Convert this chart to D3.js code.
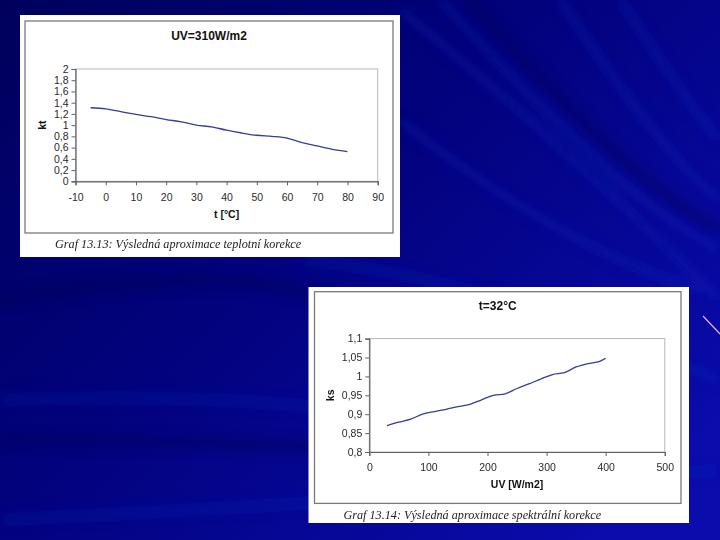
<!DOCTYPE html>
<html>
<head>
<meta charset="utf-8">
<script src="https://cdn.jsdelivr.net/npm/d3@7"></script>
<style>
  body { margin: 0; padding: 0; background: #000070; }
  svg { display: block; }
</style>
</head>
<body>
<svg id="slide" width="720" height="540"></svg>
<script>
// chart 1: temperature correction
const tempValues = [-5, 0, 5, 10, 15, 20, 25, 30, 35, 40, 45, 50, 55, 60, 65, 70, 75, 80];
const ktValues = [1.31, 1.29, 1.24, 1.19, 1.15, 1.10, 1.06, 1.00, 0.97, 0.91, 0.86, 0.82, 0.80, 0.77, 0.69, 0.63, 0.57, 0.53];
const tempTicks = [-10, 0, 10, 20, 30, 40, 50, 60, 70, 80, 90];
const ktTicks = [0, 0.2, 0.4, 0.6, 0.8, 1, 1.2, 1.4, 1.6, 1.8, 2];

// chart 2: spectral correction
const uvValues = [30, 50, 70, 90, 110, 130, 150, 170, 190, 210, 230, 250, 270, 290, 310, 330, 350, 370, 390, 400];
const ksValues = [0.870, 0.879, 0.887, 0.900, 0.907, 0.913, 0.920, 0.926, 0.938, 0.950, 0.954, 0.968, 0.980, 0.993, 1.005, 1.010, 1.025, 1.034, 1.040, 1.048];
const uvTicks = [0, 100, 200, 300, 400, 500];
const ksTicks = [0.8, 0.85, 0.9, 0.95, 1, 1.05, 1.1];

// excel style numbers: decimal comma, plain hyphen for minus
const fmt = (v) => String(+v.toFixed(2)).replace(".", ",");

const svg = d3.select("#slide");
const defs = svg.append("defs");

// slide background
const bg = defs.append("linearGradient").attr("id", "bg")
  .attr("x1", "0").attr("y1", "0").attr("x2", "1").attr("y2", "0.8");
bg.append("stop").attr("offset", "0").attr("stop-color", "#00005c");
bg.append("stop").attr("offset", "0.45").attr("stop-color", "#02027c");
bg.append("stop").attr("offset", "1").attr("stop-color", "#0a0cac");

defs.append("filter").attr("id", "soft")
  .attr("x", "-20%").attr("y", "-20%").attr("width", "140%").attr("height", "140%")
  .append("feGaussianBlur").attr("stdDeviation", 6);

svg.append("rect").attr("width", 720).attr("height", 540).attr("fill", "url(#bg)");

const streaks = svg.append("g").attr("filter", "url(#soft)").attr("fill", "none");
const lightStreaks = [
  "M400,10 C500,90 620,200 720,300",
  "M440,0 C540,110 640,210 720,250",
  "M560,0 C620,90 680,170 720,200",
  "M620,0 C660,60 700,120 720,140",
  "M400,120 C500,200 600,260 700,290",
  "M0,400 C150,395 300,400 420,420",
  "M0,520 C200,510 400,500 720,470",
  "M300,260 C420,270 520,300 720,380"
];
streaks.selectAll("path.light").data(lightStreaks).join("path")
  .attr("class", "light")
  .attr("d", (d) => d)
  .attr("stroke", "#1e26c4")
  .attr("stroke-width", 7)
  .attr("opacity", 0.35);

const darkStreaks = [
  "M0,440 C150,440 300,445 420,455",
  "M470,0 C560,100 640,190 720,230",
  "M0,300 C120,280 250,270 330,300"
];
streaks.selectAll("path.dark").data(darkStreaks).join("path")
  .attr("class", "dark")
  .attr("d", (d) => d)
  .attr("stroke", "#000050")
  .attr("stroke-width", 10)
  .attr("opacity", 0.45);

svg.append("line")
  .attr("x1", 703).attr("y1", 316).attr("x2", 720).attr("y2", 334)
  .attr("stroke", "#e6b4f0").attr("stroke-width", 1.2);

function drawChart(cfg) {
  const g = svg.append("g");

  g.append("rect")
    .attr("x", cfg.panel[0]).attr("y", cfg.panel[1])
    .attr("width", cfg.panel[2] - cfg.panel[0]).attr("height", cfg.panel[3] - cfg.panel[1])
    .attr("fill", "#fff");

  g.append("rect")
    .attr("x", cfg.frame[0]).attr("y", cfg.frame[1])
    .attr("width", cfg.frame[2] - cfg.frame[0]).attr("height", cfg.frame[3] - cfg.frame[1])
    .attr("fill", "none").attr("stroke", "#7a7a7a").attr("stroke-width", 1.3);

  const [left, top, right, bottom] = cfg.plot;
  const x = d3.scaleLinear().domain(cfg.xDomain).range([left, right]);
  const y = d3.scaleLinear().domain(cfg.yDomain).range([bottom, top]);

  // plot area border (top & right lighter)
  g.append("rect")
    .attr("x", left).attr("y", top).attr("width", right - left).attr("height", bottom - top)
    .attr("fill", "none").attr("stroke", "#b8b8b8").attr("stroke-width", 1);

  const xAxis = g.append("g")
    .attr("transform", `translate(0,${bottom})`)
    .call(d3.axisBottom(x).tickValues(cfg.xTicks).tickFormat(fmt).tickSize(4).tickPadding(8));
  const yAxis = g.append("g")
    .attr("transform", `translate(${left},0)`)
    .call(d3.axisLeft(y).tickValues(cfg.yTicks).tickFormat(fmt).tickSize(4).tickPadding(3));

  [xAxis, yAxis].forEach((a) => {
    a.select(".domain").attr("stroke", "#606060").attr("stroke-width", 1.2);
    a.selectAll(".tick line").attr("stroke", "#606060");
    a.selectAll(".tick text")
      .style("font-family", "'Liberation Sans', Arial, sans-serif")
      .style("font-size", "10.5px")
      .attr("fill", "#2a2a2a");
  });

  const line = d3.line()
    .x((d) => x(d[0]))
    .y((d) => y(d[1]))
    .curve(d3.curveMonotoneX);

  g.append("path")
    .datum(d3.zip(cfg.xs, cfg.ys))
    .attr("d", line)
    .attr("fill", "none")
    .attr("stroke", "#3b3b98")
    .attr("stroke-width", 1.3);

  const bold = (sel, size) => sel
    .style("font-family", "'Liberation Sans', Arial, sans-serif")
    .style("font-weight", "bold")
    .style("font-size", size)
    .attr("fill", "#111")
    .attr("text-anchor", "middle");

  g.append("text")
    .attr("x", (cfg.frame[0] + cfg.frame[2]) / 2).attr("y", cfg.titleY)
    .text(cfg.title).call(bold, "12px");

  g.append("text")
    .attr("x", (left + right) / 2).attr("y", cfg.xLabelY)
    .text(cfg.xLabel).call(bold, "10.5px");

  g.append("text")
    .attr("transform", `translate(${cfg.yLabelX},${(top + bottom) / 2}) rotate(-90)`)
    .text(cfg.yLabel).call(bold, "10.5px");

  g.append("text")
    .attr("x", cfg.captionX).attr("y", cfg.captionY)
    .text(cfg.caption)
    .style("font-family", "'Liberation Serif', 'Times New Roman', serif")
    .style("font-style", "italic")
    .style("font-size", "12.2px")
    .attr("fill", "#222");
}

drawChart({
  panel: [20, 15, 400, 257],
  frame: [25, 21, 393, 233],
  plot: [75.5, 69, 377.7, 181.3],
  xDomain: [-10, 90],
  yDomain: [0, 2],
  xTicks: tempTicks,
  yTicks: ktTicks,
  xs: tempValues,
  ys: ktValues,
  title: "UV=310W/m2",
  titleY: 40,
  xLabel: "t [°C]",
  xLabelY: 217.5,
  yLabel: "kt",
  yLabelX: 45.5,
  caption: "Graf 13.13: Výsledná aproximace teplotní korekce",
  captionX: 55,
  captionY: 248
});

drawChart({
  panel: [308.5, 287, 689, 523],
  frame: [314.5, 291.7, 681, 503.4],
  plot: [369.3, 338.6, 664.8, 452],
  xDomain: [0, 500],
  yDomain: [0.8, 1.1],
  xTicks: uvTicks,
  yTicks: ksTicks,
  xs: uvValues,
  ys: ksValues,
  title: "t=32°C",
  titleY: 310,
  xLabel: "UV [W/m2]",
  xLabelY: 488,
  yLabel: "ks",
  yLabelX: 334,
  caption: "Graf 13.14: Výsledná aproximace spektrální korekce",
  captionX: 343.4,
  captionY: 519
});
</script>
</body>
</html>
